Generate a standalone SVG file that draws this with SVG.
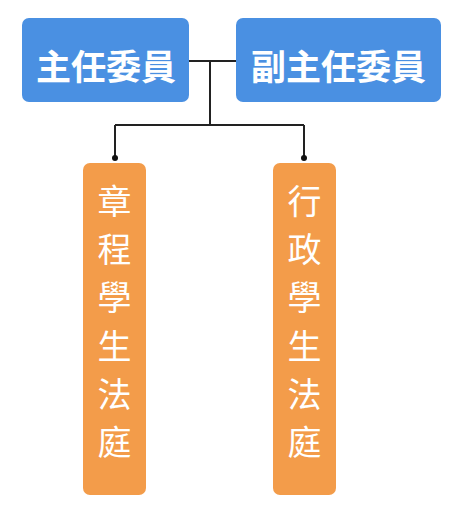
<svg xmlns="http://www.w3.org/2000/svg" width="450" height="507" viewBox="0 0 450 507">
<style>
.top{fill:#4a90e2}
.sub{fill:#f39c4a}
.tt{font-family:"Noto Sans CJK TC","Noto Sans CJK SC",sans-serif;font-weight:bold;font-size:35px;fill:#fff;text-anchor:middle;dominant-baseline:central}
.vt{font-family:"Noto Sans CJK TC","Noto Sans CJK SC",sans-serif;font-size:34px;fill:#fff;text-anchor:middle;dominant-baseline:central}
.ln{fill:none;stroke:#222;stroke-width:2}
</style>
<rect width="450" height="507" fill="#fff"/>
<g id="connectors">
<path class="ln" d="M189 61H236M210 61V125M115 125H304M115 125V158M304 125V158"/>
<circle cx="115" cy="158" r="3" fill="#111"/>
<circle cx="304" cy="158" r="3" fill="#111"/>
</g>
<g id="chair">
<rect class="top" x="22" y="18" width="167" height="84" rx="7"/>
<text class="tt" x="106" y="64">主任委員</text>
</g>
<g id="vice">
<rect class="top" x="236" y="18" width="205" height="84" rx="7"/>
<text class="tt" x="338.5" y="64">副主任委員</text>
</g>
<g id="court1">
<rect class="sub" x="83" y="163" width="63" height="332" rx="7"/>
<text class="vt" x="114.5" y="199">章</text>
<text class="vt" x="114.5" y="247">程</text>
<text class="vt" x="114.5" y="295">學</text>
<text class="vt" x="114.5" y="344">生</text>
<text class="vt" x="114.5" y="392">法</text>
<text class="vt" x="114.5" y="440">庭</text>
</g>
<g id="court2">
<rect class="sub" x="273" y="163" width="63" height="332" rx="7"/>
<text class="vt" x="304.5" y="199">行</text>
<text class="vt" x="304.5" y="247">政</text>
<text class="vt" x="304.5" y="295">學</text>
<text class="vt" x="304.5" y="344">生</text>
<text class="vt" x="304.5" y="392">法</text>
<text class="vt" x="304.5" y="440">庭</text>
</g>
</svg>
